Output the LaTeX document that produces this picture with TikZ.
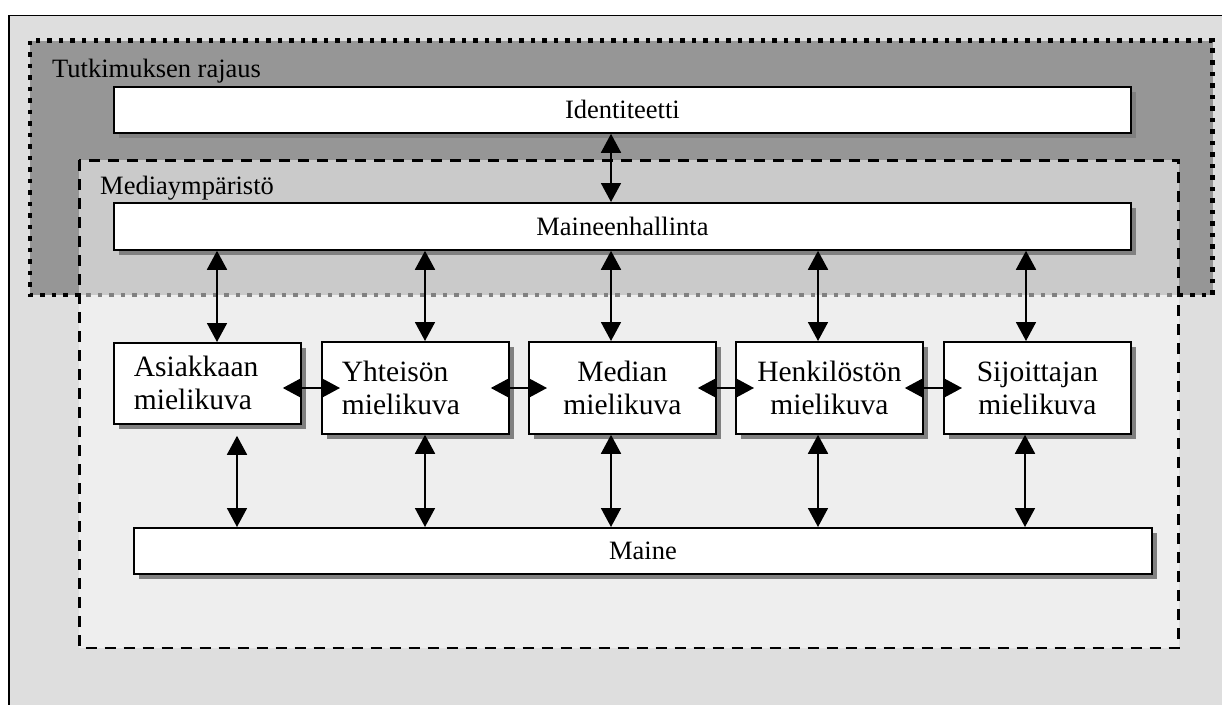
\documentclass[tikz,border=0pt]{standalone}
\usepackage{fontspec}
\setmainfont{Liberation Serif}
\usetikzlibrary{arrows.meta}
\definecolor{outerg}{RGB}{222,222,222}
\definecolor{darkg}{RGB}{150,150,150}
\definecolor{shadowg}{RGB}{128,128,128}
\tikzset{
  bigfont/.style={font=\fontsize{26.5}{30}\selectfont},
  smallfont/.style={font=\fontsize{29.5}{33}\selectfont},
  boxshadow/.style={preaction={fill=shadowg, transform canvas={xshift=5.5pt,yshift=-5.5pt}}},
  widebox/.style={draw=black, line width=1.8pt, fill=white, boxshadow, anchor=north west,
    inner sep=0pt, bigfont, minimum height=46pt},
  smallbox/.style={draw=black, line width=1.8pt, fill=white, boxshadow, anchor=north west,
    inner ysep=0pt, inner xsep=20pt, text width=147pt, smallfont, minimum height=92pt},
  areatitle/.style={bigfont, anchor=base west, inner sep=0pt},
  dar/.style={{Triangle[length=19pt,width=20pt]}-{Triangle[length=19pt,width=20pt]}, line width=1.8pt},
  hdar/.style={dar, shorten <=-19pt, shorten >=-19pt},
  dotborder/.style={line width=4.5pt, dash pattern=on 4.5pt off 7pt},
  dashborder/.style={line width=2.6pt, dash pattern=on 11pt off 8pt}
}
\begin{document}
\begin{tikzpicture}[x=1pt,y=-1pt]
\useasboundingbox (0,0) rectangle (1222,704);
\clip (0,0) rectangle (1222,704);
\fill[white] (0,0) rectangle (1222,704);
% outer frame
\draw[fill=outerg, line width=1.5pt] (9,15.5) rectangle (1240,720);
% Tutkimuksen rajaus area
\draw[fill=darkg, dotborder] (30,40.5) rectangle (1212.5,295);
\node[areatitle] (lt) at (52,77) {Tutkimuksen rajaus};
\node[widebox, minimum width=1017pt] (id) at (113,86) {Identiteetti};
% Mediaympäristö area (translucent)
\fill[white, fill opacity=0.5] (79.3,160.3) rectangle (1178.7,648);
\draw[dashborder] (79.3,160.3) rectangle (1178.7,648);
\node[areatitle] (lm) at (100,194) {Mediaympäristö};
\node[widebox, minimum width=1017pt, minimum height=47pt] (mh) at (113,202) {Maineenhallinta};
% image boxes
\node[smallbox, align=left, minimum height=81pt] (as) at (113,342) {Asiakkaan\\mielikuva};
\node[smallbox, align=left] (yh) at (321,341) {Yhteisön\\mielikuva};
\node[smallbox, align=center] (me) at (528,341) {Median\\mielikuva};
\node[smallbox, align=center] (he) at (735,341) {Henkilöstön\\mielikuva};
\node[smallbox, align=center] (si) at (943,341) {Sijoittajan\\mielikuva};
\node[widebox, minimum width=1018pt] (ma) at (133,527) {Maine};
% helper coordinates
\coordinate (u1) at (217,0);
\coordinate (u2) at (425,0);
\coordinate (u3) at (611,0);
\coordinate (u4) at (818,0);
\coordinate (u5) at (1026,0);
\coordinate (l1) at (237,0);
\coordinate (l5) at (1025,0);
\coordinate (hy) at (0,388);
% arrows
\draw[dar] (id.south -| u3) -- (mh.north -| u3);
\draw[dar] (mh.south -| u1) -- (as.north -| u1);
\draw[dar] (mh.south -| u2) -- (yh.north -| u2);
\draw[dar] (mh.south -| u3) -- (me.north -| u3);
\draw[dar] (mh.south -| u4) -- (he.north -| u4);
\draw[dar] (mh.south -| u5) -- (si.north -| u5);
\draw[hdar] (as.east |- hy) -- (yh.west |- hy);
\draw[hdar] (yh.east |- hy) -- (me.west |- hy);
\draw[hdar] (me.east |- hy) -- (he.west |- hy);
\draw[hdar] (he.east |- hy) -- (si.west |- hy);
\draw[dar, shorten <=11pt] (as.south -| l1) -- (ma.north -| l1);
\draw[dar] (yh.south -| u2) -- (ma.north -| u2);
\draw[dar] (me.south -| u3) -- (ma.north -| u3);
\draw[dar] (he.south -| u4) -- (ma.north -| u4);
\draw[dar] (si.south -| l5) -- (ma.north -| l5);
\end{tikzpicture}
\end{document}
